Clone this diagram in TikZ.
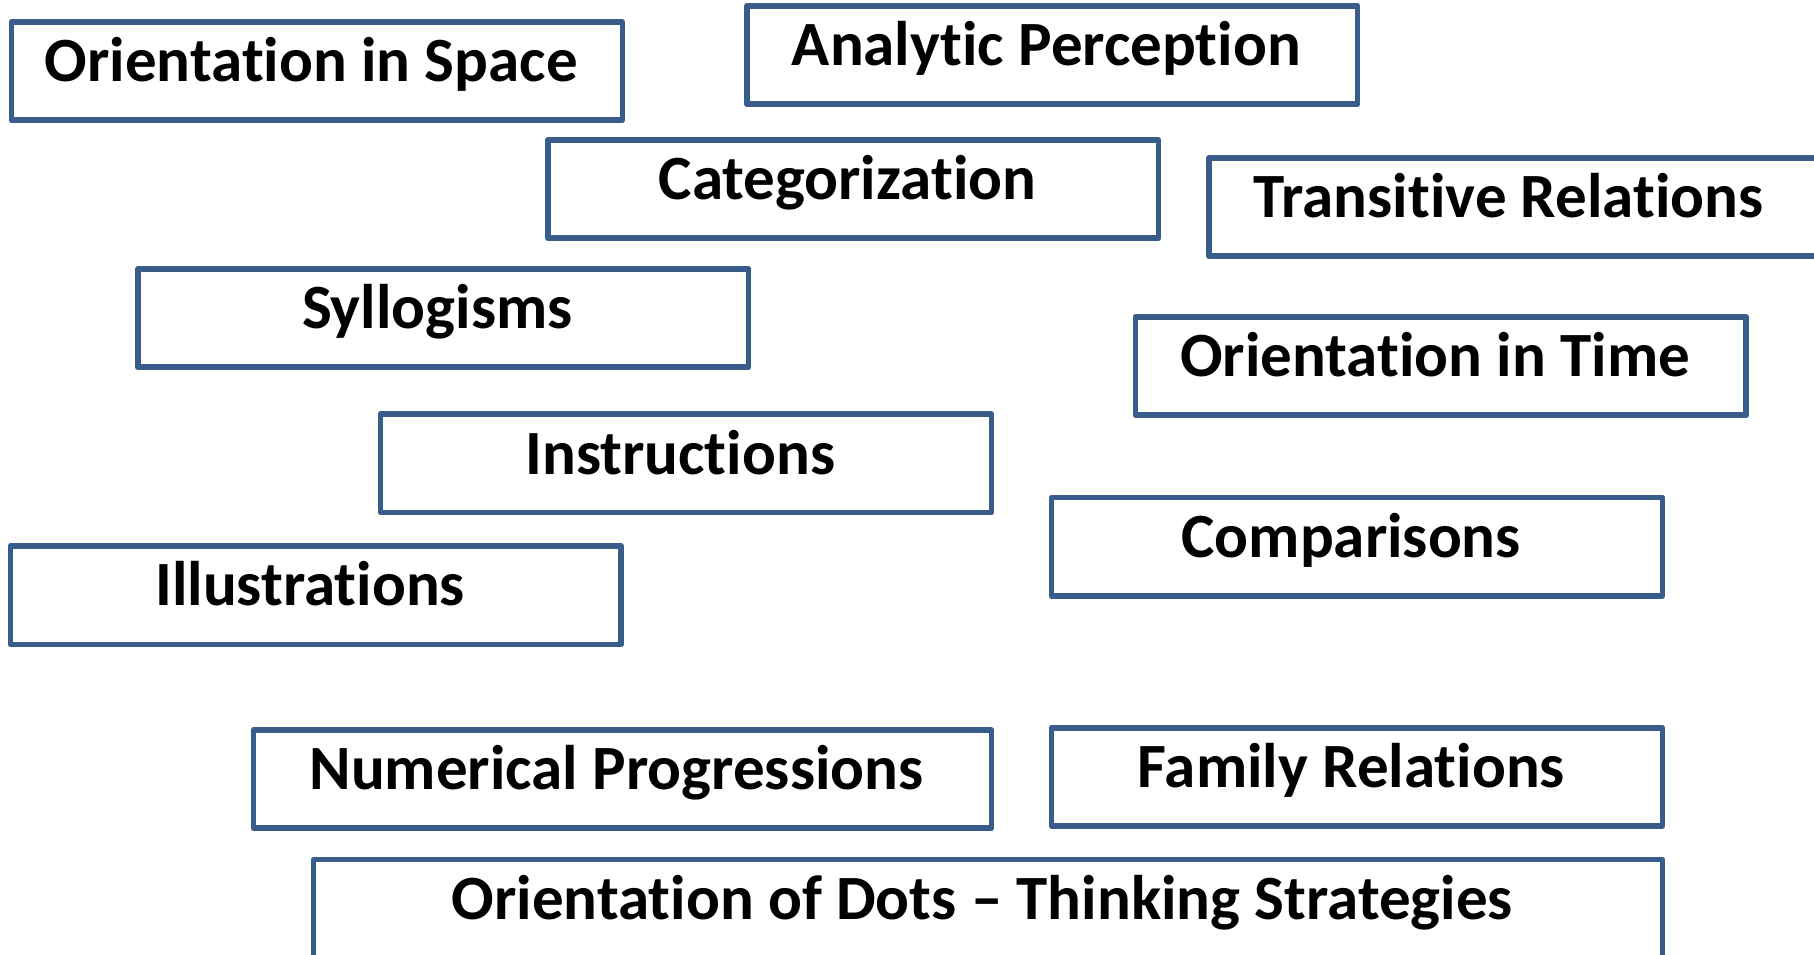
\documentclass[tikz,border=0pt]{standalone}
\usepackage{fontspec}
\setmainfont{Carlito}[Ligatures=CommonOff]
\definecolor{boxline}{RGB}{56,93,138}
\begin{document}
\begin{tikzpicture}[x=0.1mm, y=-0.1mm, line join=round]
	\tikzset{skill/.style={draw=boxline, line width=1.4pt, inner sep=0pt,
			minimum width=52.8mm, minimum height=8.5mm,
			font=\bfseries\fontsize{15.5}{18}\selectfont,
			text height=0.78em, text depth=0.25em,
			execute at end node={\hspace{1mm}}}}
	\useasboundingbox (0,0) rectangle (1568,825);
	\node[skill] (space) at (274,61.5) {Orientation in Space};
	\node[skill] (analytic) at (909.5,47.5) {Analytic Perception};
	\node[skill] (categ) at (737.5,163.5) {Categorization};
	\node[skill] (transit) at (1309,179) {Transitive Relations};
	\node[skill] (syllog) at (383,275) {Syllogisms};
	\node[skill] (time) at (1245.5,316.5) {Orientation in Time};
	\node[skill] (instr) at (593,400.5) {Instructions};
	\node[skill] (compar) at (1173,472.5) {Comparisons};
	\node[skill] (illus) at (273,514.5) {Illustrations};
	\node[skill, minimum width=63.8mm] (numer) at (538,673.5) {Numerical Progressions};
	\node[skill] (family) at (1173,671.5) {Family Relations};
	\node[skill, minimum width=116.6mm] (dots) at (854,785.5) {Orientation of Dots -- Thinking Strategies};
\end{tikzpicture}
\end{document}
